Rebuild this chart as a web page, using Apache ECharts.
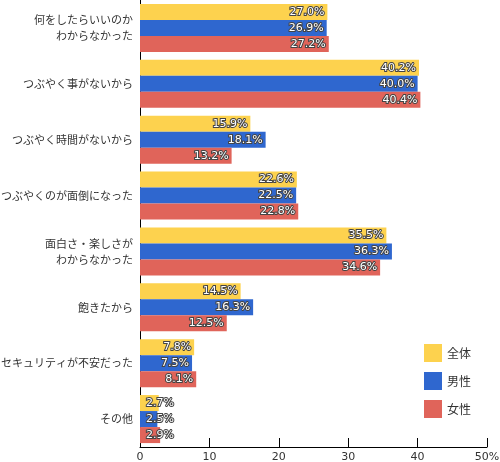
<!DOCTYPE html>
<html><head><meta charset="utf-8">
<script src="https://cdn.jsdelivr.net/npm/echarts@6/dist/echarts.min.js"></script>
<style>html,body{margin:0;padding:0;background:#fff}#c{width:500px;height:462px}</style>
</head><body><div id="c"></div>
<script>
const categories = ['何をしたらいいのか\nわからなかった','つぶやく事がないから','つぶやく時間がないから','つぶやくのが面倒になった','面白さ・楽しさが\nわからなかった','飽きたから','セキュリティが不安だった','その他'];
const seriesNames = ['全体','男性','女性'];
const allValues = [27.0, 40.2, 15.9, 22.6, 35.5, 14.5, 7.8, 2.7];
const maleValues = [26.9, 40.0, 18.1, 22.5, 36.3, 16.3, 7.5, 2.5];
const femaleValues = [27.2, 40.4, 13.2, 22.8, 34.6, 12.5, 8.1, 2.9];
const xTicks = [0, 10, 20, 30, 40, 50];
const colors = ['#FDD24E', '#2F67CF', '#E0645A'];

const chart = echarts.init(document.getElementById('c'), null, {renderer:'canvas'});
function mk(name, vals, color){
  return {
    name, type:'bar', data: vals.map(v => ({
      value: v,
      label: v < 5 ? {position:'insideLeft', distance:6} : {position:'insideRight', distance:3}
    })),
    itemStyle:{color},
    barGap:'0%', barCategoryGap:'14%',
    label:{show:true, formatter: p => p.value.toFixed(1)+'%', color:'#fff', fontSize:11,
      fontFamily:'DejaVu Sans', fontWeight:'normal', textBorderColor:'#444', textBorderWidth:2}
  };
}
chart.setOption({
  animation:false,
  color: colors,
  grid:{left:140, right:13, top:0, bottom:15, containLabel:false, outerBoundsMode:'none'},
  legend:{orient:'vertical', left:419, top:339, itemWidth:18, itemHeight:18, itemGap:10, icon:'rect',
    textStyle:{fontSize:12, color:'#333', fontFamily:'Noto Sans CJK JP'}, data: seriesNames},
  xAxis:{type:'value', min:xTicks[0], max:xTicks[xTicks.length-1], interval:10,
    axisLine:{show:true, lineStyle:{color:'#000'}},
    axisTick:{show:true, inside:true, length:9, lineStyle:{color:'#000'}},
    splitLine:{show:false},
    axisLabel:{color:'#333', fontSize:11, fontFamily:'DejaVu Sans', margin:5,
      formatter: v => v === 50 ? '50%' : String(v)}},
  yAxis:{type:'category', data:categories, inverse:true,
    axisLine:{show:true, lineStyle:{color:'#000'}},
    axisTick:{show:false},
    axisLabel:{color:'#333', fontSize:11, lineHeight:16, margin:7, fontFamily:'Noto Sans CJK JP'}},
  series:[mk(seriesNames[0], allValues, colors[0]), mk(seriesNames[1], maleValues, colors[1]), mk(seriesNames[2], femaleValues, colors[2])]
});
</script></body></html>
